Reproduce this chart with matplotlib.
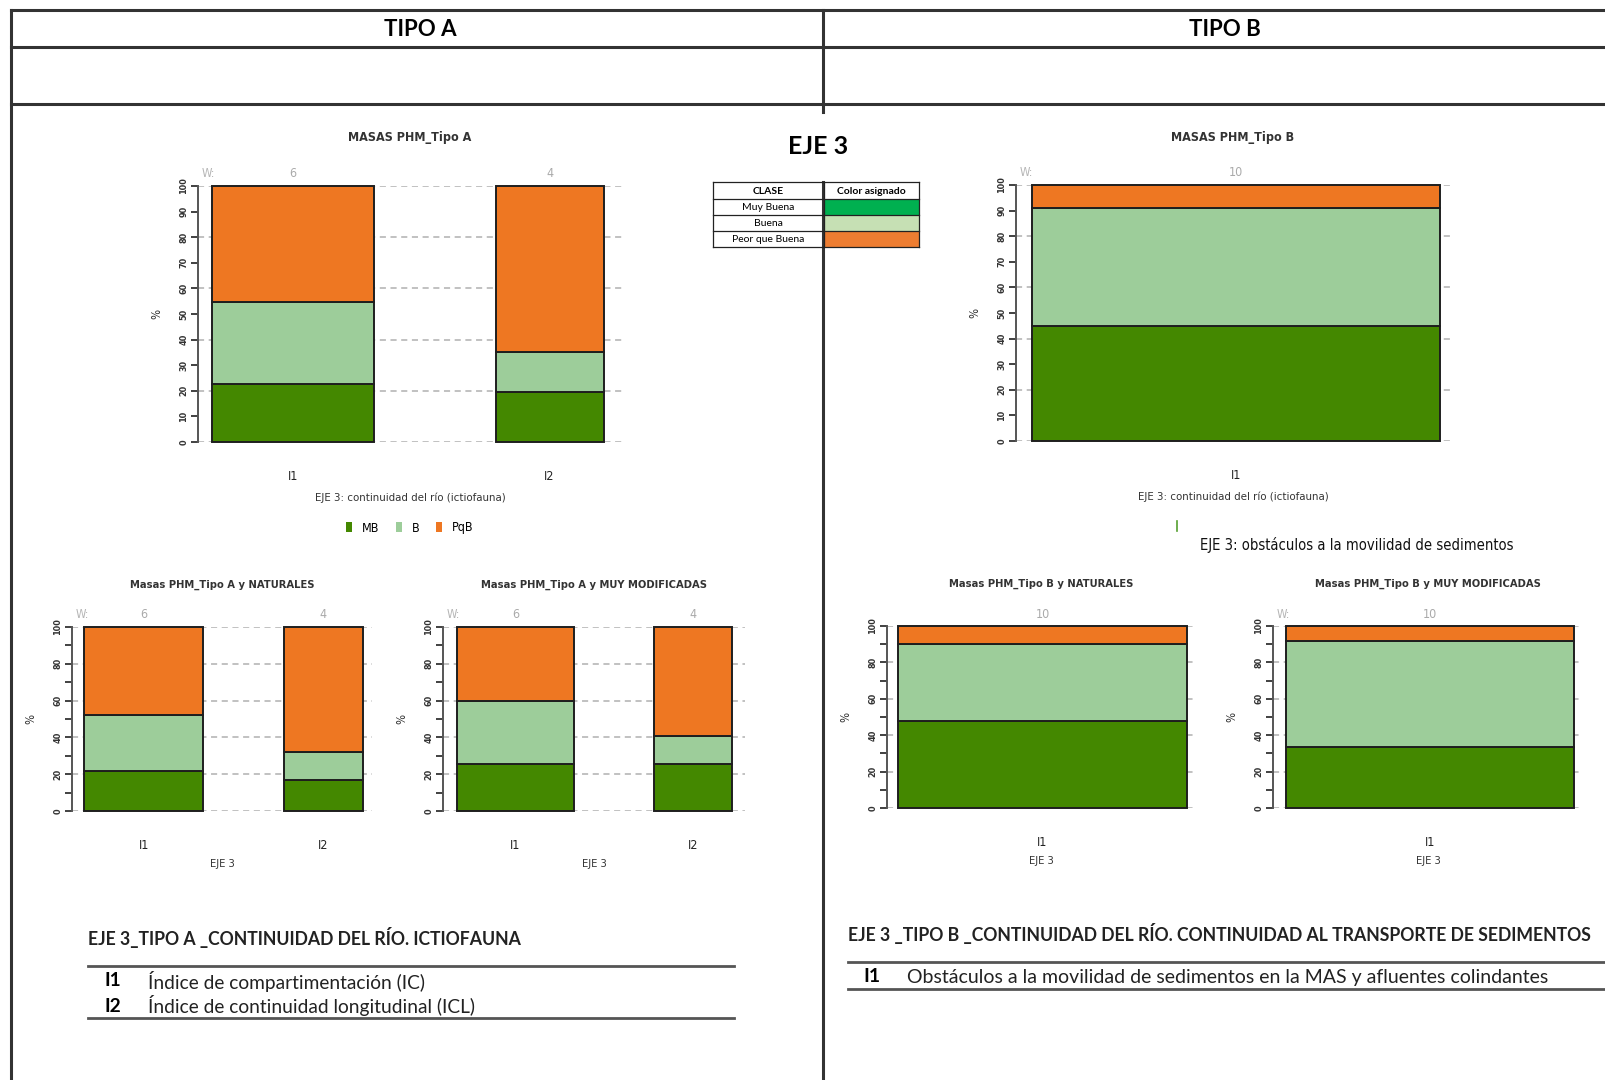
import numpy as np
import matplotlib
matplotlib.use("Agg")
import matplotlib.pyplot as plt
from matplotlib.patches import Patch, Rectangle

W, H = 1605, 1080

# class colours used in the bar charts
col_mb = '#448800'
col_b = '#9dcd9a'
col_pqb = '#ee7722'
class_labels = ['MB', 'B', 'PqB']

# colour key table
clase_names = ['Muy Buena', 'Buena', 'Peor que Buena']
clase_colors = ['#00b050', '#c6e0b4', '#ed7d31']

# ---- data: % of water bodies per class ----
ind_A = ['I1', 'I2']
n_A = [6, 4]
tipoA_mb = [22.5, 19.5]
tipoA_b = [32.0, 15.5]
tipoA_pqb = [45.5, 65.0]

natA_mb = [22.0, 17.0]
natA_b = [30.0, 15.0]
natA_pqb = [48.0, 68.0]

modA_mb = [25.5, 25.5]
modA_b = [34.5, 15.0]
modA_pqb = [40.0, 59.5]

ind_B = ['I1']
n_B = [10]
tipoB_mb = [45.0]
tipoB_b = [46.0]
tipoB_pqb = [9.0]

natB_mb = [48.0]
natB_b = [42.0]
natB_pqb = [10.0]

modB_mb = [33.5]
modB_b = [58.0]
modB_pqb = [8.5]

NARROW = dict(family='DejaVu Sans', fontstretch='condensed')
DOC = ['Lato', 'DejaVu Sans']

fig = plt.figure(figsize=(W / 100, H / 100), dpi=100)
ov = fig.add_axes([0, 0, 1, 1])
ov.set_xlim(0, W)
ov.set_ylim(H, 0)
ov.axis('off')


def axes_px(x0, y0, x1, y1):
    return fig.add_axes([x0 / W, 1 - y1 / H, (x1 - x0) / W, (y1 - y0) / H])


def pt(px):
    return px * 0.72


def narrow_label(lbl, size, weight='normal'):
    lbl.set_family('DejaVu Sans')
    lbl.set_stretch('condensed')
    lbl.set_size(size)
    lbl.set_weight(weight)


def stacked(box, xlim, gap, counts, mb, b, pqb, labels, title, xlabel,
            small=False, show_w=True):
    ax = axes_px(*box)
    ax.set_facecolor('none')
    ax.set_xlim(*xlim)
    ax.set_ylim(0, 100)
    # bar left edges: widths proportional to number of water bodies
    lefts = []
    x = 0.0
    for n in counts:
        lefts.append(x)
        x += n + gap
    lefts = np.array(lefts)
    widths = np.array(counts, dtype=float)
    mb = np.array(mb)
    b = np.array(b)
    pqb = np.array(pqb)
    for lvl in [0, 20, 40, 60, 80, 100]:
        ax.axhline(lvl, color='#b0b0b0', lw=1.1, ls=(0, (4, 3)), zorder=0)
    kw = dict(align='edge', edgecolor='#1e1e1e', linewidth=1.4, clip_on=False, zorder=2)
    ax.bar(lefts, mb, widths, color=col_mb, **kw)
    ax.bar(lefts, b, widths, bottom=mb, color=col_b, **kw)
    ax.bar(lefts, pqb, widths, bottom=mb + b, color=col_pqb, **kw)

    for s in ['top', 'right', 'bottom']:
        ax.spines[s].set_visible(False)
    ax.spines['left'].set_color('#555555')
    ax.spines['left'].set_linewidth(1.4)
    if small:
        ax.set_yticks([0, 20, 40, 60, 80, 100])
        ax.set_yticks([10, 30, 50, 70, 90], minor=True)
    else:
        ax.set_yticks(np.arange(0, 101, 10))
    ax.tick_params(axis='y', which='both', direction='out', length=5, width=1.3,
                   color='#333333', labelcolor='#333333', pad=2, labelrotation=90)
    for lbl in ax.get_yticklabels():
        lbl.set_va('center')
        narrow_label(lbl, 6.5, 'bold')
    centers = lefts + widths / 2
    ax.set_xticks(centers, labels)
    ax.tick_params(axis='x', length=0, pad=20, labelcolor='#222222')
    for lbl in ax.get_xticklabels():
        narrow_label(lbl, 9)

    for c, n in zip(centers, counts):
        ax.annotate(str(n), xy=(c, 100), xytext=(0, pt(12)), textcoords='offset points',
                    ha='center', va='center', fontsize=9, color='#aaaaaa', **NARROW)
    if show_w:
        ax.annotate('W:', xy=(0, 1), xycoords='axes fraction', xytext=(pt(4), pt(12)),
                    textcoords='offset points', ha='left', va='center', fontsize=8.5,
                    color='#b5b5b5', **NARROW)
    ax.annotate(title, xy=(0.5, 1), xycoords='axes fraction',
                xytext=(0, pt(48 if not small else 42)), textcoords='offset points',
                ha='center', va='center', fontsize=9 if not small else 8,
                fontweight='bold', color='#333333', **NARROW)
    ax.annotate(xlabel, xy=(0.5, 0), xycoords='axes fraction',
                xytext=(0, -pt(56 if not small else 53)), textcoords='offset points',
                ha='center', va='center', fontsize=8.2 if not small else 8,
                color='#333333', **NARROW)
    ax.annotate('%', xy=(0, 0.5), xycoords='axes fraction', xytext=(-pt(41), 0),
                textcoords='offset points', ha='center', va='center', rotation=90,
                fontsize=8.5, color='#333333', **NARROW)
    return ax


# ---- frame of the document table ----
frame_kw = dict(color='#333333', lw=2.2)
for y in [10, 47, 104]:
    ov.plot([11, W], [y, y], **frame_kw)
ov.plot([11, 11], [10, H], **frame_kw)
ov.plot([823, 823], [10, 112], **frame_kw)
ov.plot([823, 823], [182, H], **frame_kw)

ov.text(420, 30, 'TIPO A', ha='center', va='center', fontsize=16, fontweight='bold', family=DOC)
ov.text(1225, 30, 'TIPO B', ha='center', va='center', fontsize=16, fontweight='bold', family=DOC)

# ---- EJE 3 colour key ----
ov.text(818, 146, 'EJE 3', ha='center', va='center', fontsize=18, fontweight='bold', family=DOC)
tx0, tx1, tx2 = 713, 824, 919
rows = [182, 199, 215, 231, 247]
for i, (name, c) in enumerate(zip(clase_names, clase_colors)):
    ov.add_patch(Rectangle((tx1, rows[i + 1]), tx2 - tx1, rows[i + 2] - rows[i + 1],
                           facecolor=c, edgecolor='none'))
    ov.text((tx0 + tx1) / 2, (rows[i + 1] + rows[i + 2]) / 2 + 0.5, name, ha='center',
            va='center', fontsize=7.5, family=DOC)
ov.text((tx0 + tx1) / 2, (rows[0] + rows[1]) / 2 + 0.5, 'CLASE', ha='center', va='center',
        fontsize=7.5, fontweight='bold', family=DOC)
ov.text((tx1 + tx2) / 2, (rows[0] + rows[1]) / 2 + 0.5, 'Color asignado', ha='center',
        va='center', fontsize=7.5, fontweight='bold', family=DOC)
for y in rows:
    ov.plot([tx0, tx2], [y, y], color='#222222', lw=0.9)
for x in [tx0, tx1, tx2]:
    ov.plot([x, x], [rows[0], rows[-1]], color='#222222', lw=0.9)

# ---- charts ----
stacked((198, 186, 622, 442), (-0.52, 15.17), 4.49, n_A, tipoA_mb, tipoA_b, tipoA_pqb,
        ind_A, 'MASAS PHM_Tipo A', 'EJE 3: continuidad del río (ictiofauna)')
stacked((1016, 185, 1450, 441), (-0.39, 10.25), 0, n_B, tipoB_mb, tipoB_b, tipoB_pqb,
        ind_B, 'MASAS PHM_Tipo B', 'EJE 3: continuidad del río (ictiofauna)')
stacked((72, 627, 372, 811), (-0.61, 14.47), 4.03, n_A, natA_mb, natA_b, natA_pqb,
        ind_A, 'Masas PHM_Tipo A y NATURALES', 'EJE 3', small=True)
stacked((443, 627, 745, 811), (-0.71, 14.74), 4.07, n_A, modA_mb, modA_b, modA_pqb,
        ind_A, 'Masas PHM_Tipo A y MUY MODIFICADAS', 'EJE 3', small=True)
stacked((887, 626, 1195, 808), (-0.38, 10.28), 0, n_B, natB_mb, natB_b, natB_pqb,
        ind_B, 'Masas PHM_Tipo B y NATURALES', 'EJE 3', small=True, show_w=False)
stacked((1273, 626, 1583, 808), (-0.45, 10.31), 0, n_B, modB_mb, modB_b, modB_pqb,
        ind_B, 'Masas PHM_Tipo B y MUY MODIFICADAS', 'EJE 3', small=True)

# legend of the Tipo A chart
handles = [Patch(facecolor=c, edgecolor='none') for c in [col_mb, col_b, col_pqb]]
leg = fig.legend(handles, class_labels, loc='center', bbox_to_anchor=(410 / W, 1 - 528 / H),
                 ncol=3, frameon=False, handlelength=0.5, handleheight=0.9,
                 columnspacing=1.3, handletextpad=0.8,
                 prop={'family': 'DejaVu Sans', 'stretch': 'condensed', 'size': 9})

ov.plot([1177, 1177], [521, 531], color='#55a030', lw=1.2)
ov.text(1200, 545, 'EJE 3: obstáculos a la movilidad de sedimentos', ha='left', va='center',
        fontsize=10.6, color='#111111', **NARROW)

# ---- indicator descriptions ----
ov.text(88, 938, 'EJE 3_TIPO A _CONTINUIDAD DEL RÍO. ICTIOFAUNA', ha='left', va='center',
        fontsize=12.7, fontweight='bold', color='#222222', family=DOC)
ov.plot([88, 734], [966, 966], color='#555555', lw=2)
ov.plot([88, 734], [1018, 1018], color='#555555', lw=2)
ov.text(105, 981, 'I1', ha='left', va='center', fontsize=13.8, fontweight='bold', family=DOC)
ov.text(148, 981, 'Índice de compartimentación (IC)', ha='left', va='center', fontsize=13.8,
        color='#222222', family=DOC)
ov.text(105, 1006, 'I2', ha='left', va='center', fontsize=13.8, fontweight='bold', family=DOC)
ov.text(148, 1006, 'Índice de continuidad longitudinal (ICL)', ha='left', va='center',
        fontsize=13.8, color='#222222', family=DOC)

ov.text(848, 934, 'EJE 3 _TIPO B _CONTINUIDAD DEL RÍO. CONTINUIDAD AL TRANSPORTE DE SEDIMENTOS',
        ha='left', va='center', fontsize=12.7, fontweight='bold', color='#222222', family=DOC)
ov.plot([848, W], [962, 962], color='#555555', lw=2)
ov.plot([848, W], [989, 989], color='#555555', lw=2)
ov.text(863, 977, 'I1', ha='left', va='center', fontsize=14, fontweight='bold', family=DOC)
ov.text(907, 977, 'Obstáculos a la movilidad de sedimentos en la MAS y afluentes colindantes',
        ha='left', va='center', fontsize=14, color='#222222', family=DOC)

fig.savefig('out.png', dpi=100)
